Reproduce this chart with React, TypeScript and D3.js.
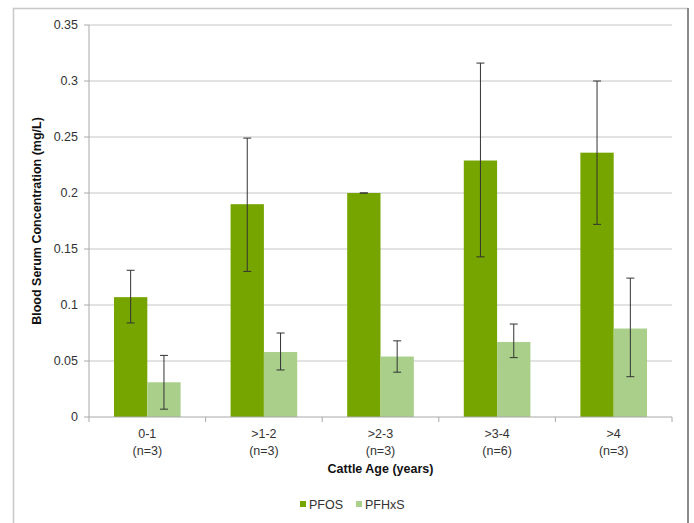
import React from "react";
import * as d3 from "d3";

const categories = ["0-1", ">1-2", ">2-3", ">3-4", ">4"];
const counts = ["(n=3)", "(n=3)", "(n=3)", "(n=6)", "(n=3)"];
const seriesNames = ["PFOS", "PFHxS"];
const pfos = [0.107, 0.19, 0.2, 0.229, 0.236];
const pfosLow = [0.084, 0.13, 0.2, 0.143, 0.172];
const pfosHigh = [0.131, 0.249, 0.2, 0.316, 0.3];
const pfhxs = [0.031, 0.058, 0.054, 0.067, 0.079];
const pfhxsLow = [0.007, 0.042, 0.04, 0.053, 0.036];
const pfhxsHigh = [0.055, 0.075, 0.068, 0.083, 0.124];
const yTicks = [0, 0.05, 0.1, 0.15, 0.2, 0.25, 0.3, 0.35];
const colors = ["#77A500", "#A9CF8B"];

export default function App() {
  const W = 694, H = 523;
  const left = 89, right = 672, top = 25, bottom = 417;
  const y = d3.scaleLinear().domain([0, 0.35]).range([bottom, top]);
  const x0 = d3.scaleBand().domain(categories).range([left, right]).paddingInner(0).paddingOuter(0);
  const bw = x0.bandwidth();
  const barW = bw / 3.5;
  const series = [
    { v: pfos, lo: pfosLow, hi: pfosHigh },
    { v: pfhxs, lo: pfhxsLow, hi: pfhxsHigh },
  ];
  const font = "Liberation Sans, Arial, sans-serif";
  return (
    <svg width={W} height={H} style={{ position: "absolute", left: 0, top: 0, background: "#fff" }} fontFamily={font}>
      <rect x={0} y={0} width={W} height={H} fill="#fff" />
      <path d={`M13.5,${H} V8.5 H688`} fill="none" stroke="#c8c8c8" strokeWidth={1.5} />
      <line x1={688} y1={8} x2={688} y2={H} stroke="#8a8a8a" strokeWidth={2} />
      {yTicks.map((t) => (
        <g key={t}>
          {t > 0 && <line x1={left} x2={right} y1={y(t)} y2={y(t)} stroke="#c6c6c6" strokeWidth={1} />}
          <line x1={left - 5} x2={left} y1={y(t)} y2={y(t)} stroke="#a8a8a8" />
          <text x={left - 11} y={y(t)} dy="0.35em" textAnchor="end" fontSize={12.5} fill="#333">{t}</text>
        </g>
      ))}
      {series.map((s, si) =>
        categories.map((c, i) => {
          const bx = x0(c)! + bw / 2 - barW + si * barW;
          return (
            <rect key={`${si}-${i}`} x={bx} y={y(s.v[i])} width={barW} height={y(0) - y(s.v[i])} fill={colors[si]} />
          );
        })
      )}
      {series.map((s, si) =>
        categories.map((c, i) => {
          const cx = x0(c)! + bw / 2 - barW / 2 + si * barW;
          return (
            <g key={`e${si}-${i}`} stroke="#333" strokeWidth={1}>
              <line x1={cx} x2={cx} y1={y(s.hi[i])} y2={y(s.lo[i])} />
              <line x1={cx - 4} x2={cx + 4} y1={y(s.hi[i])} y2={y(s.hi[i])} />
              <line x1={cx - 4} x2={cx + 4} y1={y(s.lo[i])} y2={y(s.lo[i])} />
            </g>
          );
        })
      )}
      <line x1={left} x2={left} y1={top} y2={bottom} stroke="#a8a8a8" />
      <line x1={left} x2={right} y1={bottom} y2={bottom} stroke="#a8a8a8" />
      {[...categories.map((c) => x0(c)!), right].map((tx, i) => (
        <line key={i} x1={tx} x2={tx} y1={bottom} y2={bottom + 5} stroke="#a8a8a8" />
      ))}
      {categories.map((c, i) => (
        <g key={c}>
          <text x={x0(c)! + bw / 2} y={438} textAnchor="middle" fontSize={12.5} fill="#333">{c}</text>
          <text x={x0(c)! + bw / 2} y={455} textAnchor="middle" fontSize={12.5} fill="#333">{counts[i]}</text>
        </g>
      ))}
      <text x={(left + right) / 2} y={473} textAnchor="middle" fontSize={12.5} fontWeight="bold" fill="#111">Cattle Age (years)</text>
      <text transform={`translate(41,${(top + bottom) / 2}) rotate(-90)`} textAnchor="middle" fontSize={12.5} fontWeight="bold" fill="#111">Blood Serum Concentration (mg/L)</text>
      {seriesNames.map((n, i) => {
        const lx = [300, 356][i];
        return (
          <g key={n}>
            <rect x={lx} y={501} width={6} height={6} fill={colors[i]} />
            <text x={lx + 9} y={509} fontSize={12.5} fill="#333">{n}</text>
          </g>
        );
      })}
    </svg>
  );
}
